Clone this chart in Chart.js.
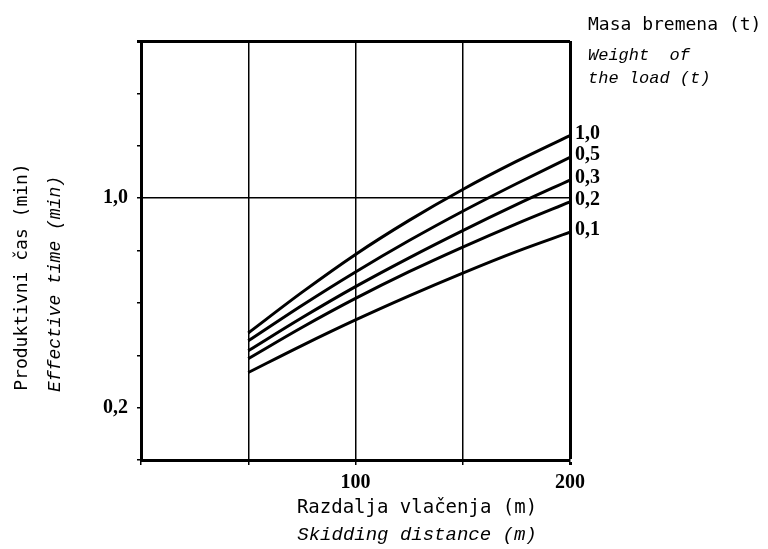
<!DOCTYPE html>
<html>
<head>
<meta charset="utf-8">
<script src="https://cdn.jsdelivr.net/npm/chart.js@4.4.1/dist/chart.umd.min.js"></script>
<style>
  body { margin: 0; background: #fff; }
  canvas { display: block; }
</style>
</head>
<body>
<canvas id="myChart" width="768" height="549"></canvas>
<script>
// Skidding distance (m)
const distances = [50, 75, 100, 125, 150, 175, 200];

// Effective time (min) for each load weight (t)
const load10 = [0.485, 0.640, 0.785, 0.915, 1.033, 1.140, 1.239];
const load05 = [0.455, 0.590, 0.718, 0.838, 0.950, 1.055, 1.156];
const load03 = [0.417, 0.543, 0.662, 0.772, 0.876, 0.975, 1.069];
const load02 = [0.387, 0.506, 0.617, 0.719, 0.813, 0.902, 0.986];
const load01 = [0.334, 0.437, 0.535, 0.627, 0.714, 0.796, 0.870];

const seriesNames = ['1,0', '0,5', '0,3', '0,2', '0,1'];
const seriesValues = [load10, load05, load03, load02, load01];

// tick labels
const xLabelValues = [100, 200];
const xLabelTexts = ['100', '200'];
const yLabelValues = [0.2, 1.0];
const yLabelTexts = ['0,2', '1,0'];

function near(a, b) {
    return Math.abs(a - b) < 1e-6;
}

function labelFor(value, values, texts) {
    for (let i = 0; i < values.length; i++) {
        if (near(value, values[i])) return texts[i];
    }
    return '';
}

// Draws axis titles, legend heading and the labels at line ends
const textPlugin = {
    id: 'textPlugin',
    afterDraw(chart) {
        const c = chart.ctx;
        c.save();
        c.fillStyle = '#000';

        c.textAlign = 'left';
        c.textBaseline = 'middle';
        c.font = '18px "DejaVu Sans Mono"';
        c.fillText('Masa bremena (t)', 588, 25);
        c.font = 'italic 17px "Liberation Mono"';
        c.fillText('Weight  of', 588, 55);
        c.fillText('the load (t)', 588, 78);

        // labels next to the end of every line
        c.font = 'bold 20px "Liberation Serif"';
        chart.data.datasets.forEach((ds, i) => {
            const meta = chart.getDatasetMeta(i);
            const last = meta.data[meta.data.length - 1];
            c.fillText(seriesNames[i], last.x + 5, last.y - 2);
        });

        c.textAlign = 'center';
        c.font = '19px "DejaVu Sans Mono"';
        c.fillText('Razdalja vlačenja (m)', 417, 508);
        c.font = 'italic 19px "Liberation Mono"';
        c.fillText('Skidding distance (m)', 417, 535);

        c.translate(22, 277);
        c.rotate(-Math.PI / 2);
        c.font = '18px "DejaVu Sans Mono"';
        c.fillText('Produktivni čas (min)', 0, 0);
        c.rotate(Math.PI / 2);
        c.translate(33, 7);
        c.rotate(-Math.PI / 2);
        c.font = 'italic 18px "Liberation Mono"';
        c.fillText('Effective time (min)', 0, 0);
        c.restore();
    }
};

const ctx = document.getElementById('myChart').getContext('2d');
const myChart = new Chart(ctx, {
    type: 'line',
    data: {
        datasets: seriesValues.map((vals, i) => ({
            label: seriesNames[i],
            data: distances.map((d, j) => ({ x: d, y: vals[j] })),
            borderColor: '#000',
            borderWidth: 3,
            pointRadius: 0,
            fill: false,
            cubicInterpolationMode: 'monotone'
        }))
    },
    options: {
        responsive: false,
        animation: false,
        devicePixelRatio: 1,
        layout: {
            padding: { top: 41, right: 198, bottom: 49, left: 0 }
        },
        plugins: {
            legend: { display: false },
            tooltip: { enabled: false }
        },
        scales: {
            x: {
                type: 'linear',
                min: 0,
                max: 200,
                afterFit(scale) { scale.height = 40; },
                ticks: {
                    stepSize: 50,
                    autoSkip: false,
                    maxRotation: 0,
                    padding: 6,
                    color: '#000',
                    font: { family: 'Liberation Serif', size: 20, weight: 'bold' },
                    callback: (v) => labelFor(v, xLabelValues, xLabelTexts)
                },
                grid: {
                    color: (c) => (c.tick && c.tick.value > 0 ? '#000' : 'rgba(0,0,0,0)'),
                    lineWidth: (c) => (c.tick && c.tick.value === 200 ? 3 : 1.5),
                    tickColor: '#000',
                    tickLength: 5
                },
                border: { display: true, color: '#000', width: 3 }
            },
            y: {
                min: 0,
                max: 1.6,
                afterFit(scale) { scale.width = 141; },
                ticks: {
                    stepSize: 0.2,
                    autoSkip: false,
                    padding: 9,
                    color: '#000',
                    font: { family: 'Liberation Serif', size: 20, weight: 'bold' },
                    callback: (v) => labelFor(v, yLabelValues, yLabelTexts)
                },
                grid: {
                    color: (c) => {
                        if (!c.tick) return 'rgba(0,0,0,0)';
                        const v = c.tick.value;
                        return near(v, 1.0) || near(v, 1.6) ? '#000' : 'rgba(0,0,0,0)';
                    },
                    lineWidth: (c) => (c.tick && near(c.tick.value, 1.6) ? 3 : 1.5),
                    tickColor: '#000',
                    tickLength: 4
                },
                border: { display: true, color: '#000', width: 3 }
            }
        }
    },
    plugins: [textPlugin]
});
</script>
</body>
</html>
